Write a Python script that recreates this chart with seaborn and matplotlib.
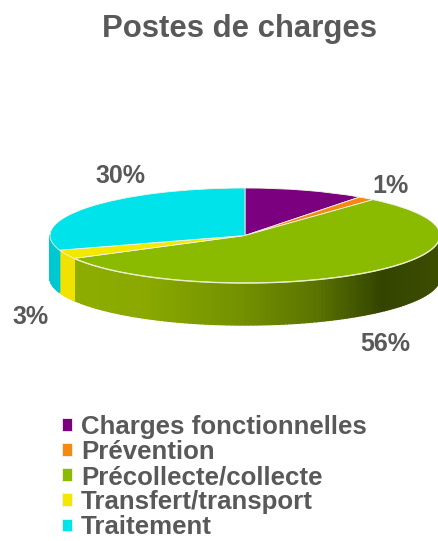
import numpy as np
import matplotlib
matplotlib.use("Agg")
import matplotlib.pyplot as plt
import seaborn as sns

categories = ["Charges fonctionnelles", "Prévention", "Précollecte/collecte", "Transfert/transport", "Traitement"]
values = [10, 1.4, 55.6, 3, 30]
shown_labels = ["", "1%", "56%", "3%", "30%"]
colors = ["#7a0080", "#f58a12", "#8abb00", "#f5e800", "#00e3ea"]

W, H = 438, 541
CX, CY, RX, RY, DEPTH = 245.0, 235.5, 195.0, 47.5, 42.0

sns.set_theme(style="white")
plt.rcParams["font.family"] = ["Liberation Sans", "DejaVu Sans"]
text_color = "#595959"

fig = plt.figure(figsize=(W / 100, H / 100), dpi=100, facecolor="white")
ax = fig.add_axes([0, 0, 1, 1])

wedges, _ = ax.pie(values, colors=colors, startangle=90, counterclock=False, radius=1.0,
                   wedgeprops=dict(linewidth=0.6, edgecolor="#f4f4e8"), normalize=True)
ax.set_aspect("auto")
ax.set_xlim(-CX / RX, (W - CX) / RX)
ax.set_ylim((CY - H) / RY, CY / RY)
ax.axis("off")

# side wall of the disc, shaded from left to right
shade_x = [-1.0, -0.5, 0.0, 0.35, 0.7, 1.0]
wall_shades = {
    2: ["#8fae00", "#8aa800", "#728f00", "#5c7500", "#334400", "#3d4e00"],
    3: ["#f2e200"] * 6,
    4: ["#00c8d2"] * 6,
}
d = DEPTH / RY
edges = np.cumsum([0] + values) / sum(values) * 360.0
for i, shades in wall_shades.items():
    a0, a1 = max(edges[i], 90.0), min(edges[i + 1], 270.0)
    if a1 <= a0:
        continue
    rgb = np.array([matplotlib.colors.to_rgb(c) for c in shades])
    th = np.radians(np.linspace(a0, a1, 120))
    xs, ys = np.sin(th), np.cos(th)
    for k in range(len(th) - 1):
        xm = 0.5 * (xs[k] + xs[k + 1])
        col = [np.interp(xm, shade_x, rgb[:, c]) for c in range(3)]
        ax.fill([xs[k], xs[k + 1], xs[k + 1], xs[k]],
                [ys[k], ys[k + 1], ys[k + 1] - d, ys[k] - d],
                facecolor=col, edgecolor=col, lw=1.0, zorder=0.5)
    if i == 2:
        ax.plot(xs, ys, color="#e8eec8", lw=1.0, zorder=3)

def px(x, y):
    return (x - CX) / RX, (CY - y) / RY

label_pos = {1: (390, 186), 2: (385, 344), 3: (31, 317), 4: (120, 176)}
for i, (x, y) in label_pos.items():
    ax.text(*px(x, y), shown_labels[i], ha="center", va="center", fontsize=18,
            fontweight="bold", color=text_color)

fig.text(240 / W, 1 - 29 / H, "Postes de charges", ha="center", va="center", fontsize=22.4,
         fontweight="bold", color=text_color)

fig.legend(wedges, categories, loc="upper left", bbox_to_anchor=(62 / W, 1 - 415 / H),
           frameon=False, labelcolor=text_color, prop=dict(weight="bold", size=18.6),
           handlelength=0.38, handleheight=0.38, handletextpad=0.36, labelspacing=0.04,
           borderpad=0, borderaxespad=0)

fig.savefig("out.png", dpi=100)
